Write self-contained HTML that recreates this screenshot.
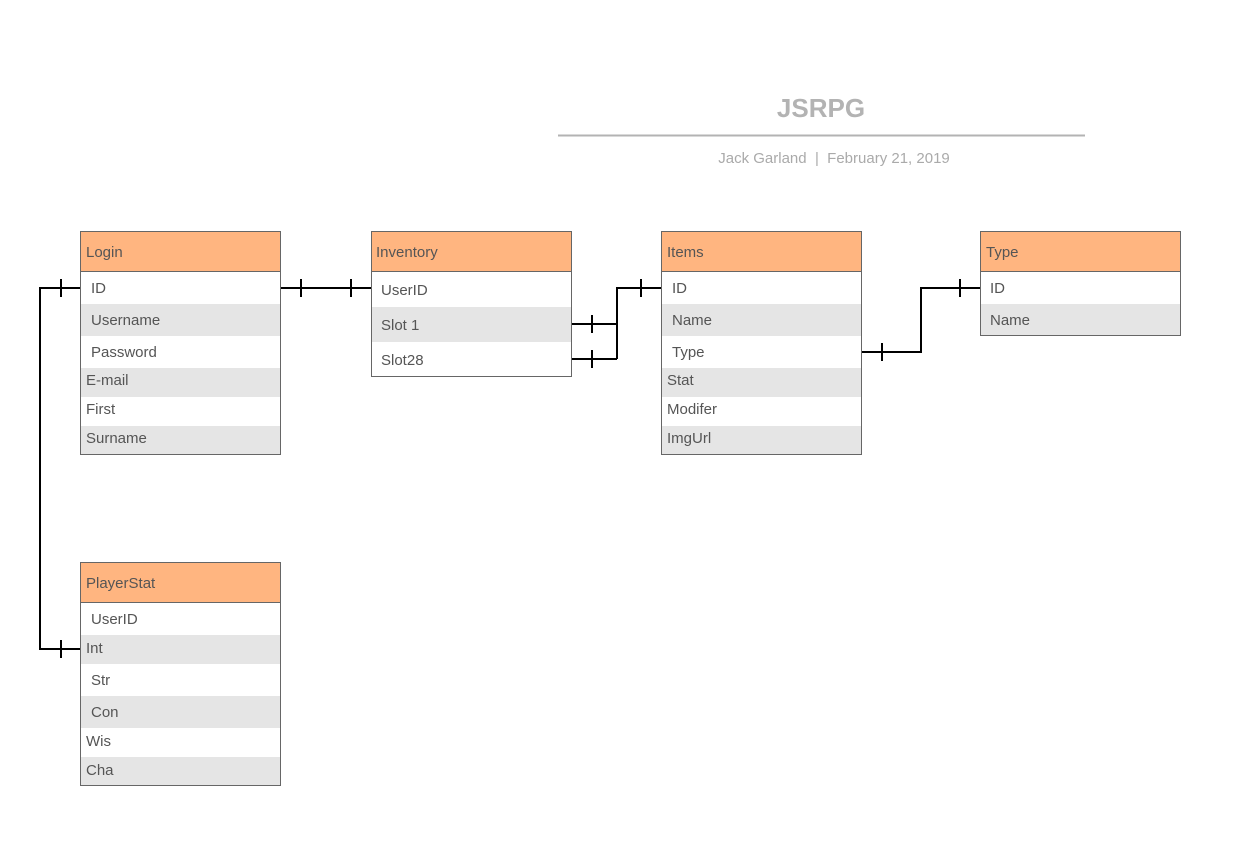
<!DOCTYPE html>
<html><head><meta charset="utf-8"><style>
body{margin:0;background:#fff}
svg{display:block;font-family:"Liberation Sans",Arial,sans-serif}
</style></head><body>
<svg width="1260" height="850" viewBox="0 0 1260 850" xmlns="http://www.w3.org/2000/svg">
<text x="821" y="117" text-anchor="middle" font-size="26" font-weight="bold" fill="#b3b3b3">JSRPG</text>
<line x1="558" y1="135.5" x2="1085" y2="135.5" stroke="#b3b3b3" stroke-width="2"/>
<text x="834" y="163" text-anchor="middle" font-size="15" fill="#aaaaaa">Jack Garland&#160;&#160;|&#160;&#160;February 21, 2019</text>

<g font-size="15" fill="#555">
<!-- Login -->
<rect x="80.5" y="231.5" width="200" height="40" fill="#ffb580"/>
<rect x="80.5" y="304" width="200" height="32" fill="#e5e5e5"/>
<rect x="80.5" y="368" width="200" height="29" fill="#e5e5e5"/>
<rect x="80.5" y="426" width="200" height="28" fill="#e5e5e5"/>
<rect x="80.5" y="231.5" width="200" height="223" fill="none" stroke="#666"/>
<line x1="80.5" y1="271.5" x2="280.5" y2="271.5" stroke="#666"/>
<text x="86" y="257">Login</text>
<text x="91" y="293">ID</text><text x="91" y="325">Username</text><text x="91" y="357">Password</text>
<text x="86" y="385">E-mail</text><text x="86" y="414">First</text><text x="86" y="443">Surname</text>

<!-- Inventory -->
<rect x="371.5" y="231.5" width="200" height="40" fill="#ffb580"/>
<rect x="371.5" y="307" width="200" height="35" fill="#e5e5e5"/>
<rect x="371.5" y="231.5" width="200" height="145" fill="none" stroke="#666"/>
<line x1="371.5" y1="271.5" x2="571.5" y2="271.5" stroke="#666"/>
<text x="376" y="257">Inventory</text>
<text x="381" y="295">UserID</text><text x="381" y="330">Slot 1</text><text x="381" y="365">Slot28</text>

<!-- Items -->
<rect x="661.5" y="231.5" width="200" height="40" fill="#ffb580"/>
<rect x="661.5" y="304" width="200" height="32" fill="#e5e5e5"/>
<rect x="661.5" y="368" width="200" height="29" fill="#e5e5e5"/>
<rect x="661.5" y="426" width="200" height="28" fill="#e5e5e5"/>
<rect x="661.5" y="231.5" width="200" height="223" fill="none" stroke="#666"/>
<line x1="661.5" y1="271.5" x2="861.5" y2="271.5" stroke="#666"/>
<text x="667" y="257">Items</text>
<text x="672" y="293">ID</text><text x="672" y="325">Name</text><text x="672" y="357">Type</text>
<text x="667" y="385">Stat</text><text x="667" y="414">Modifer</text><text x="667" y="443">ImgUrl</text>

<!-- Type -->
<rect x="980.5" y="231.5" width="200" height="40" fill="#ffb580"/>
<rect x="980.5" y="304" width="200" height="31" fill="#e5e5e5"/>
<rect x="980.5" y="231.5" width="200" height="104" fill="none" stroke="#666"/>
<line x1="980.5" y1="271.5" x2="1180.5" y2="271.5" stroke="#666"/>
<text x="986" y="257">Type</text>
<text x="990" y="293">ID</text><text x="990" y="325">Name</text>

<!-- PlayerStat -->
<rect x="80.5" y="562.5" width="200" height="40" fill="#ffb580"/>
<rect x="80.5" y="635" width="200" height="29" fill="#e5e5e5"/>
<rect x="80.5" y="696" width="200" height="32" fill="#e5e5e5"/>
<rect x="80.5" y="757" width="200" height="28" fill="#e5e5e5"/>
<rect x="80.5" y="562.5" width="200" height="223" fill="none" stroke="#666"/>
<line x1="80.5" y1="602.5" x2="280.5" y2="602.5" stroke="#666"/>
<text x="86" y="588">PlayerStat</text>
<text x="91" y="624">UserID</text><text x="86" y="653">Int</text><text x="91" y="685">Str</text>
<text x="91" y="717">Con</text><text x="86" y="746">Wis</text><text x="86" y="775">Cha</text>
</g>

<g stroke="#000" stroke-width="2" fill="none">
<path d="M281 288H371"/><path d="M301 279v18M351 279v18"/>
<path d="M80 288H40V649H80"/><path d="M61 279v18M61 640v18"/>
<path d="M572 324H617M572 359H617M617 359V288H661"/><path d="M592 315v18M592 350v18M641 279v18"/>
<path d="M862 352H921V288H980"/><path d="M882 343v18M960 279v18"/>
</g>
</svg>
</body></html>
